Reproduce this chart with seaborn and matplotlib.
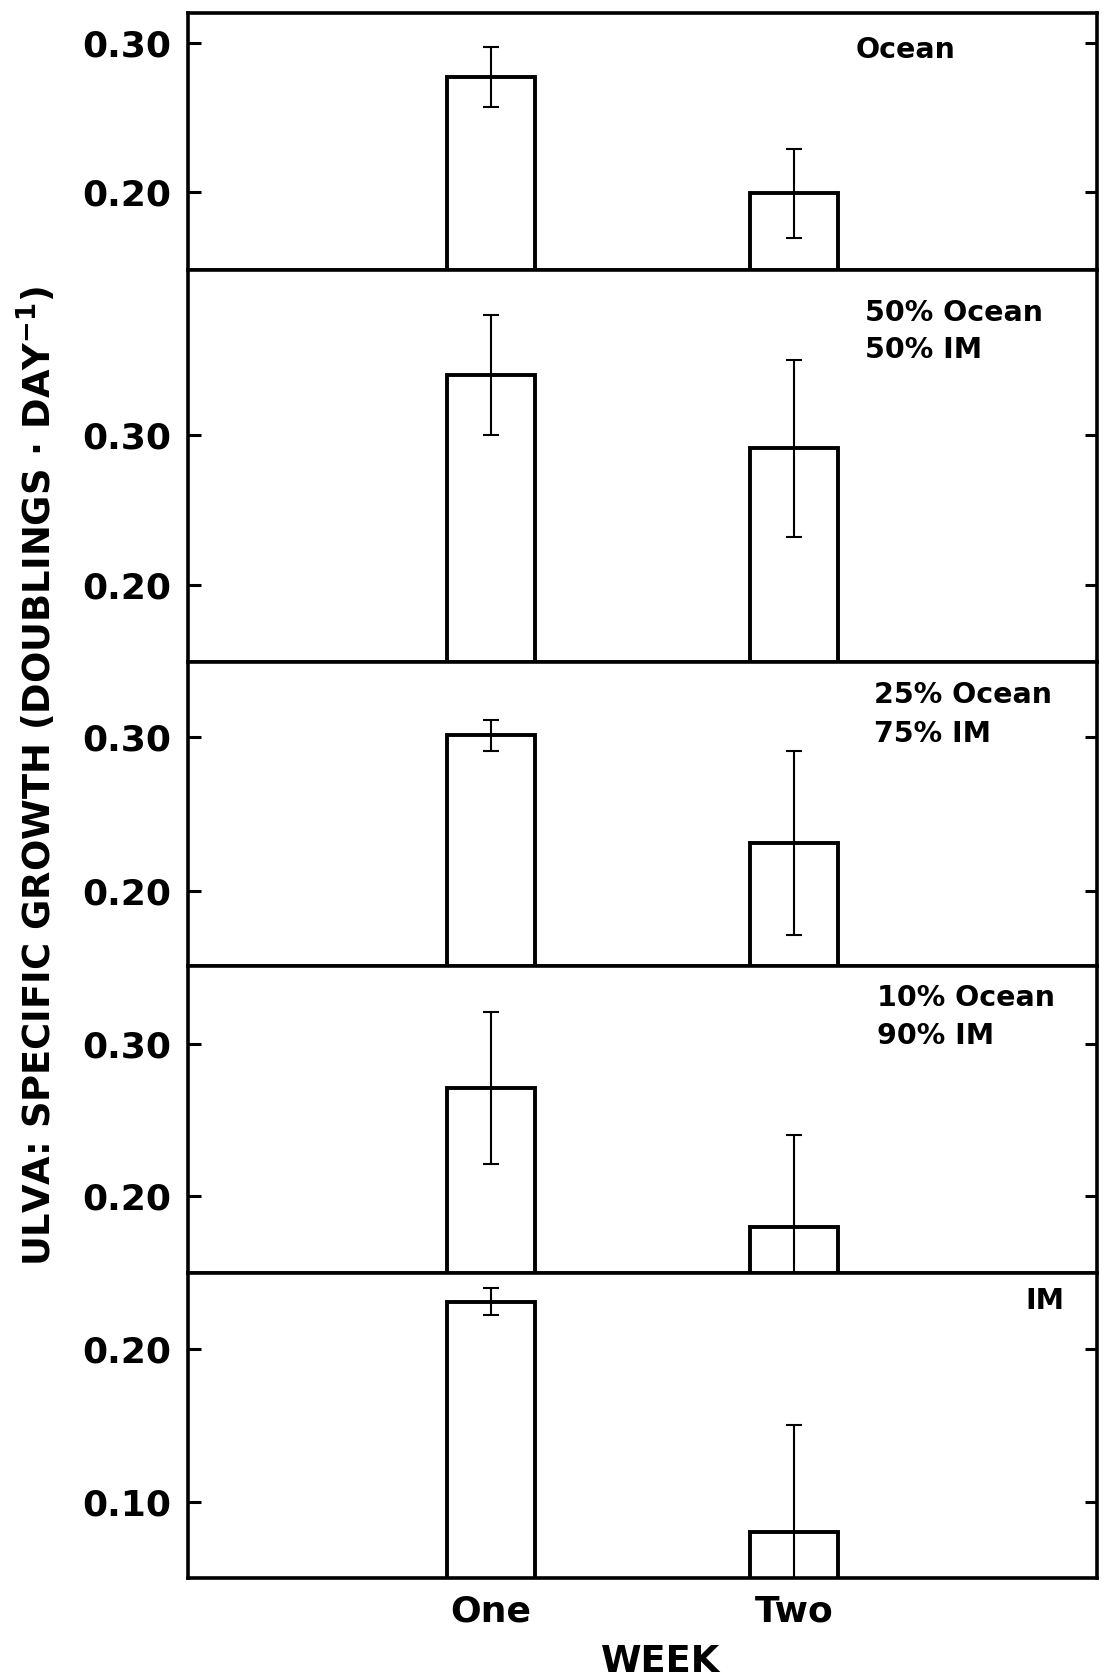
import matplotlib
matplotlib.use("Agg")
import matplotlib.pyplot as plt
import seaborn as sns
import pandas as pd

# Ulva specific growth (doublings per day) by week, for each water treatment
weeks = ["One", "Two"]
treatments = ["Ocean", "50% Ocean\n50% IM", "25% Ocean\n75% IM", "10% Ocean\n90% IM", "IM"]
growth_ocean = [0.277, 0.199]
growth_50 = [0.340, 0.291]
growth_25 = [0.301, 0.231]
growth_10 = [0.271, 0.180]
growth_im = [0.231, 0.080]
err_ocean = [0.020, 0.030]
err_50 = [0.040, 0.059]
err_25 = [0.010, 0.060]
err_10 = [0.050, 0.060]
err_im = [0.009, 0.070]

growth = [growth_ocean, growth_50, growth_25, growth_10, growth_im]
errors = [err_ocean, err_50, err_25, err_10, err_im]

rows = []
for t, g, e in zip(treatments, growth, errors):
    for w, gv, ev in zip(weeks, g, e):
        rows.append({"treatment": t, "week": w, "growth": gv, "sd": ev})
df = pd.DataFrame(rows)

# axis limits and tick positions for each panel
ylims = [(0.148, 0.320), (0.149, 0.410), (0.151, 0.349), (0.150, 0.351), (0.050, 0.250)]
yticks = [[0.20, 0.30], [0.20, 0.30], [0.20, 0.30], [0.20, 0.30], [0.10, 0.20]]

sns.set_theme(style="white")
plt.rcParams["font.family"] = ["DejaVu Sans"]
plt.rcParams["mathtext.fontset"] = "dejavusans"

W, H = 1107, 1677
fig = plt.figure(figsize=(W / 100, H / 100), dpi=100)
fig.patch.set_facecolor("white")

edges = [13, 269.5, 661.5, 966, 1272.5, 1578]
left_px, right_px = 188, 1097

# label placement inside each panel (axes fractions)
label_x = [0.735, 0.745, 0.755, 0.758, 0.921]
label_y = [[0.855], [0.890, 0.795], [0.889, 0.763], [0.896, 0.771], [0.906]]

for i, t in enumerate(treatments):
    top, bot = edges[i], edges[i + 1]
    ax = fig.add_axes([left_px / W, 1 - bot / H, (right_px - left_px) / W, (bot - top) / H])
    sub = df[df["treatment"] == t]
    sns.barplot(data=sub, x="week", y="growth", order=weeks, color="white",
                saturation=1, edgecolor="black", linewidth=2.8, width=0.29,
                errorbar=None, ax=ax, zorder=2)
    ax.errorbar(x=range(len(weeks)), y=sub["growth"].to_numpy(), yerr=sub["sd"].to_numpy(),
                fmt="none", ecolor="black", elinewidth=1.5, capsize=5.5, capthick=1.5,
                zorder=3)
    ax.set_xlim(-1, 2)
    ax.set_ylim(*ylims[i])
    ax.set_yticks(yticks[i])
    ax.set_yticklabels([f"{v:.2f}" for v in yticks[i]], fontweight="bold")
    ax.set_xlabel("")
    ax.set_ylabel("")
    for s in ax.spines.values():
        s.set_visible(True)
        s.set_color("black")
        s.set_linewidth(2.6)
    ax.tick_params(axis="y", which="both", direction="in", length=9, width=2.2,
                   left=True, right=True, labelleft=True, labelright=False,
                   labelsize=26, pad=12, colors="black")
    if i < len(treatments) - 1:
        ax.tick_params(axis="x", bottom=False, labelbottom=False)
    else:
        ax.tick_params(axis="x", bottom=False, labelbottom=True, labelsize=26,
                       pad=6, colors="black")
        for lab in ax.get_xticklabels():
            lab.set_fontweight("bold")
    lines = t.split("\n")
    for line, yy in zip(lines, label_y[i]):
        ax.text(label_x[i], yy, line, transform=ax.transAxes, ha="left", va="center",
                fontsize=20.5, fontweight="bold", color="black")

fig.text(37 / W, 1 - 776 / H, r"ULVA: SPECIFIC GROWTH (DOUBLINGS · DAY$^{\mathbf{-1}}$)",
         rotation=90, ha="center", va="center", fontsize=26.6, fontweight="bold",
         color="black")
fig.text(661 / W, 1 - 1661 / H, "WEEK", ha="center", va="center", fontsize=26.5,
         fontweight="bold", color="black")

fig.savefig("out.png", dpi=100, facecolor="white")
